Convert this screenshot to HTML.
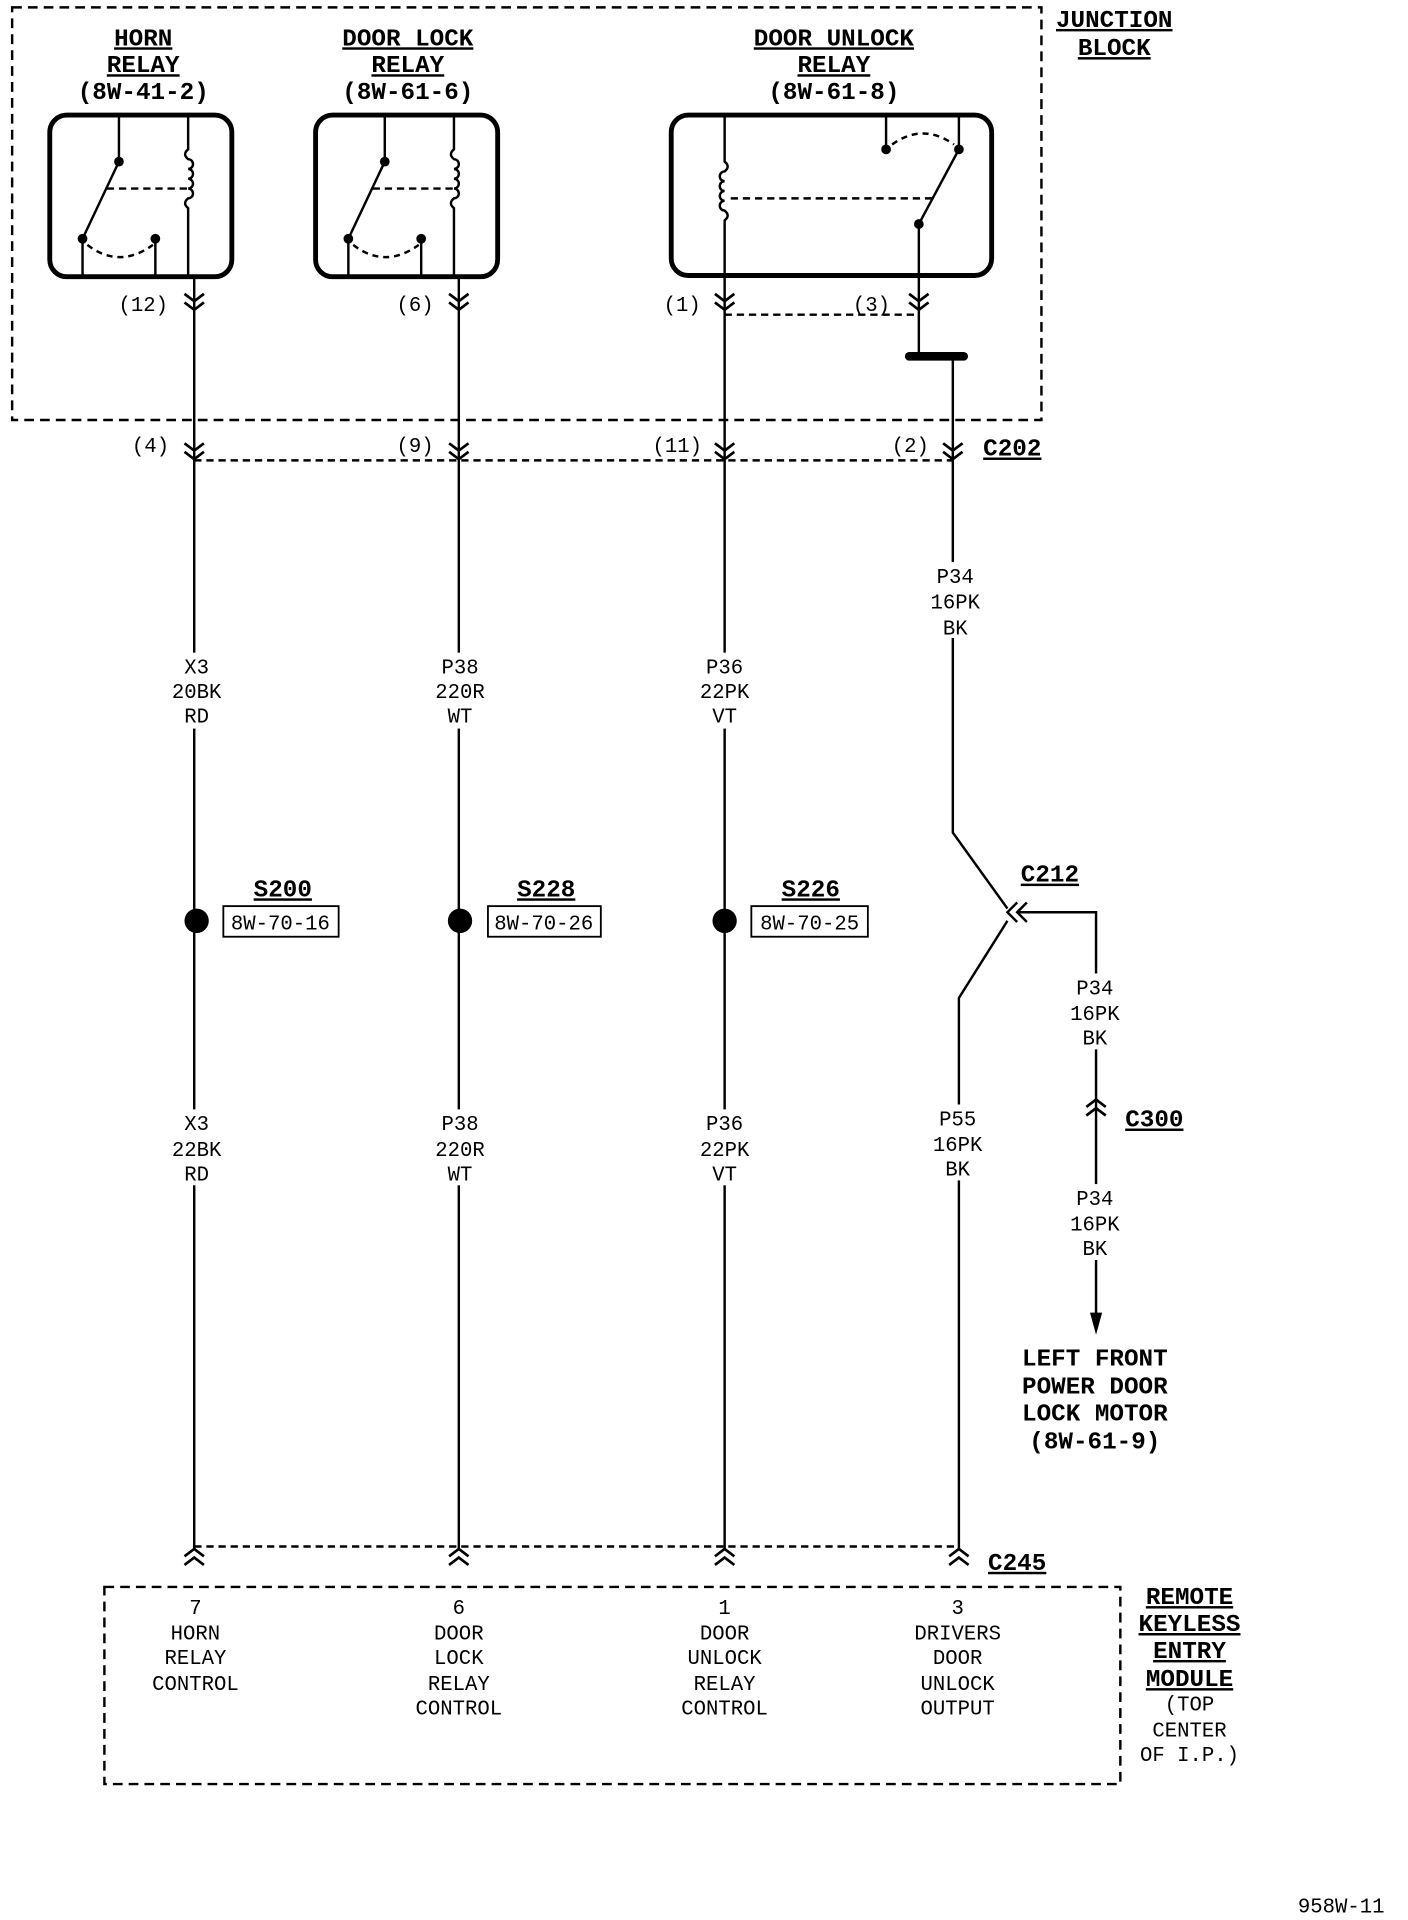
<!DOCTYPE html>
<html><head><meta charset="utf-8"><style>
html,body{margin:0;padding:0;background:#fff}
svg{display:block}
text{font-family:"Liberation Mono",monospace;fill:#000}
.b{font-family:"Liberation Sans",sans-serif;font-weight:bold;font-size:20px}
.t{font-size:17px}
</style></head><body>
<svg width="1408" height="1920" viewBox="0 0 1160 1568" preserveAspectRatio="none" xmlns="http://www.w3.org/2000/svg">
<defs>
<g id="dn"><polyline points="-8,0 0,6 8,0" fill="none" stroke="#000" stroke-width="2.2"/><polyline points="-8,7 0,13 8,7" fill="none" stroke="#000" stroke-width="2.2"/></g>
<g id="up"><polyline points="-8,6 0,0 8,6" fill="none" stroke="#000" stroke-width="2.2"/><polyline points="-8,13 0,7 8,13" fill="none" stroke="#000" stroke-width="2.2"/></g>
</defs>
<g stroke="#000" fill="none" stroke-width="2">
<rect x="10" y="6" width="848" height="337" stroke-dasharray="8,5"/>
<rect x="41" y="94" width="150" height="132" rx="14" stroke-width="4"/>
<rect x="260" y="94" width="150" height="132" rx="14" stroke-width="4"/>
<rect x="553" y="94" width="264" height="131" rx="14" stroke-width="4"/>
<!-- horn relay -->
<line x1="98" y1="94" x2="98" y2="132"/><line x1="98" y1="132" x2="68" y2="195"/>
<line x1="68" y1="195" x2="68" y2="226"/><line x1="128" y1="195" x2="128" y2="226"/>
<path d="M72 200 Q98 220 126 200" stroke-dasharray="5,4"/>
<line x1="88" y1="154" x2="154" y2="154" stroke-dasharray="6,4"/>
<path d="M155 94 V122 q-5 4 0 8 a4 4 0 1 1 0 8 a4 4 0 1 1 0 8 a4 4 0 1 1 0 8 a4 4 0 1 1 0 8 q-5 4 0 8 V226"/>
<line x1="160" y1="226" x2="160" y2="1265"/>
<!-- door lock relay -->
<line x1="317" y1="94" x2="317" y2="132"/><line x1="317" y1="132" x2="287" y2="195"/>
<line x1="287" y1="195" x2="287" y2="226"/><line x1="347" y1="195" x2="347" y2="226"/>
<path d="M291 200 Q317 220 345 200" stroke-dasharray="5,4"/>
<line x1="307" y1="154" x2="374" y2="154" stroke-dasharray="6,4"/>
<path d="M374 94 V122 q-5 4 0 8 a4 4 0 1 1 0 8 a4 4 0 1 1 0 8 a4 4 0 1 1 0 8 a4 4 0 1 1 0 8 q-5 4 0 8 V226"/>
<line x1="378" y1="226" x2="378" y2="1265"/>
<!-- door unlock relay -->
<path d="M597 94 V132 q5 4 0 8 a4 4 0 1 0 0 8 a4 4 0 1 0 0 8 a4 4 0 1 0 0 8 a4 4 0 1 0 0 8 q5 4 0 8 V1265"/>
<line x1="730" y1="94" x2="730" y2="122"/><line x1="790" y1="94" x2="790" y2="122"/>
<line x1="790" y1="122" x2="757" y2="183"/>
<path d="M735 118 Q760 100 786 118" stroke-dasharray="5,4"/>
<line x1="602" y1="162" x2="770" y2="162" stroke-dasharray="6,4"/>
<line x1="757" y1="183" x2="757" y2="291"/>
<line x1="597" y1="257" x2="757" y2="257" stroke-dasharray="6,4"/>
<line x1="749" y1="291" x2="794" y2="291" stroke-width="7" stroke-linecap="round"/>
<path d="M785 291 V680 L830 742"/>
<path d="M830 752 L790 815 V1265"/>
<path d="M838 745 H903 V1075"/>
<line x1="160" y1="376" x2="785" y2="376" stroke-dasharray="6,4"/>
<line x1="160" y1="1263" x2="790" y2="1263" stroke-dasharray="6,4"/>
<rect x="86" y="1296" width="837" height="161" stroke-dasharray="8,5"/>
<rect x="184" y="740" width="95" height="25" stroke-width="1.5"/>
<rect x="402" y="740" width="93" height="25" stroke-width="1.5"/>
<rect x="619" y="740" width="96" height="25" stroke-width="1.5"/>
<polyline points="838,737 830,745 838,753"/>
<polyline points="846,737 838,745 846,753"/>
</g>
<!-- white gaps behind wire labels -->
<g fill="#fff">
<rect x="140" y="533" width="44" height="62"/><rect x="357" y="533" width="44" height="62"/><rect x="575" y="533" width="44" height="62"/>
<rect x="765" y="459" width="44" height="62"/>
<rect x="140" y="906" width="44" height="62"/><rect x="357" y="906" width="44" height="62"/><rect x="575" y="906" width="44" height="62"/>
<rect x="767" y="902" width="44" height="62"/>
<rect x="880" y="795" width="44" height="62"/><rect x="880" y="967" width="44" height="62"/>
</g>
<polygon points="898,1072 908,1072 903,1090" fill="#000"/>
<use href="#dn" x="160" y="240"/><use href="#dn" x="378" y="240"/><use href="#dn" x="597" y="240"/><use href="#dn" x="757" y="240"/>
<use href="#dn" x="160" y="362"/><use href="#dn" x="378" y="362"/><use href="#dn" x="597" y="362"/><use href="#dn" x="785" y="362"/>
<use href="#up" x="160" y="1265"/><use href="#up" x="378" y="1265"/><use href="#up" x="597" y="1265"/><use href="#up" x="790" y="1265"/>
<use href="#up" x="903" y="898"/>
<g fill="#000">
<circle cx="98" cy="132" r="4"/><circle cx="68" cy="195" r="4"/><circle cx="128" cy="195" r="4"/>
<circle cx="317" cy="132" r="4"/><circle cx="287" cy="195" r="4"/><circle cx="347" cy="195" r="4"/>
<circle cx="730" cy="122" r="4"/><circle cx="790" cy="122" r="4"/><circle cx="757" cy="183" r="4"/>
<circle cx="162" cy="752" r="10"/><circle cx="379" cy="752" r="10"/><circle cx="597" cy="752" r="10"/>
</g>
<g class="b" text-anchor="middle" text-decoration="underline">
<text x="118" y="37">HORN</text><text x="118" y="59">RELAY</text>
<text x="336" y="37">DOOR LOCK</text><text x="336" y="59">RELAY</text>
<text x="687" y="37">DOOR UNLOCK</text><text x="687" y="59">RELAY</text>
<text x="918" y="22">JUNCTION</text><text x="918" y="45">BLOCK</text>
<text x="834" y="372" text-anchor="middle">C202</text>
<text x="865" y="720">C212</text>
<text x="951" y="920">C300</text>
<text x="838" y="1282">C245</text>
<text x="233" y="732">S200</text><text x="450" y="732">S228</text><text x="668" y="732">S226</text>
<text x="980" y="1310">REMOTE</text><text x="980" y="1332">KEYLESS</text><text x="980" y="1354">ENTRY</text><text x="980" y="1377">MODULE</text>
</g>
<g class="b" text-anchor="middle">
<text x="118" y="81">(8W-41-2)</text><text x="336" y="81">(8W-61-6)</text><text x="687" y="81">(8W-61-8)</text>
<text x="902" y="1115">LEFT FRONT</text><text x="902" y="1138">POWER DOOR</text><text x="902" y="1160">LOCK MOTOR</text><text x="902" y="1183">(8W-61-9)</text>
</g>
<g class="t" text-anchor="middle">
<text x="118" y="254">(12)</text><text x="342" y="254">(6)</text><text x="562" y="254">(1)</text><text x="718" y="254">(3)</text>
<text x="124" y="369">(4)</text><text x="342" y="369">(9)</text><text x="558" y="369">(11)</text><text x="750" y="369">(2)</text>
<text x="162" y="550">X3</text><text x="162" y="570">20BK</text><text x="162" y="590">RD</text>
<text x="379" y="550">P38</text><text x="379" y="570">220R</text><text x="379" y="590">WT</text>
<text x="597" y="550">P36</text><text x="597" y="570">22PK</text><text x="597" y="590">VT</text>
<text x="787" y="476">P34</text><text x="787" y="497">16PK</text><text x="787" y="518">BK</text>
<text x="162" y="923">X3</text><text x="162" y="944">22BK</text><text x="162" y="964">RD</text>
<text x="379" y="923">P38</text><text x="379" y="944">220R</text><text x="379" y="964">WT</text>
<text x="597" y="923">P36</text><text x="597" y="944">22PK</text><text x="597" y="964">VT</text>
<text x="789" y="919">P55</text><text x="789" y="940">16PK</text><text x="789" y="960">BK</text>
<text x="902" y="812">P34</text><text x="902" y="833">16PK</text><text x="902" y="853">BK</text>
<text x="902" y="984">P34</text><text x="902" y="1005">16PK</text><text x="902" y="1025">BK</text>
<text x="231" y="759">8W-70-16</text><text x="448" y="759">8W-70-26</text><text x="667" y="759">8W-70-25</text>
<text x="161" y="1318">7</text><text x="161" y="1339">HORN</text><text x="161" y="1359">RELAY</text><text x="161" y="1380">CONTROL</text>
<text x="378" y="1318">6</text><text x="378" y="1339">DOOR</text><text x="378" y="1359">LOCK</text><text x="378" y="1380">RELAY</text><text x="378" y="1400">CONTROL</text>
<text x="597" y="1318">1</text><text x="597" y="1339">DOOR</text><text x="597" y="1359">UNLOCK</text><text x="597" y="1380">RELAY</text><text x="597" y="1400">CONTROL</text>
<text x="789" y="1318">3</text><text x="789" y="1339">DRIVERS</text><text x="789" y="1359">DOOR</text><text x="789" y="1380">UNLOCK</text><text x="789" y="1400">OUTPUT</text>
<text x="980" y="1397">(TOP</text><text x="980" y="1418">CENTER</text><text x="980" y="1438">OF I.P.)</text>
<text x="1105" y="1562">958W-11</text>
</g>
</svg>
</body></html>
